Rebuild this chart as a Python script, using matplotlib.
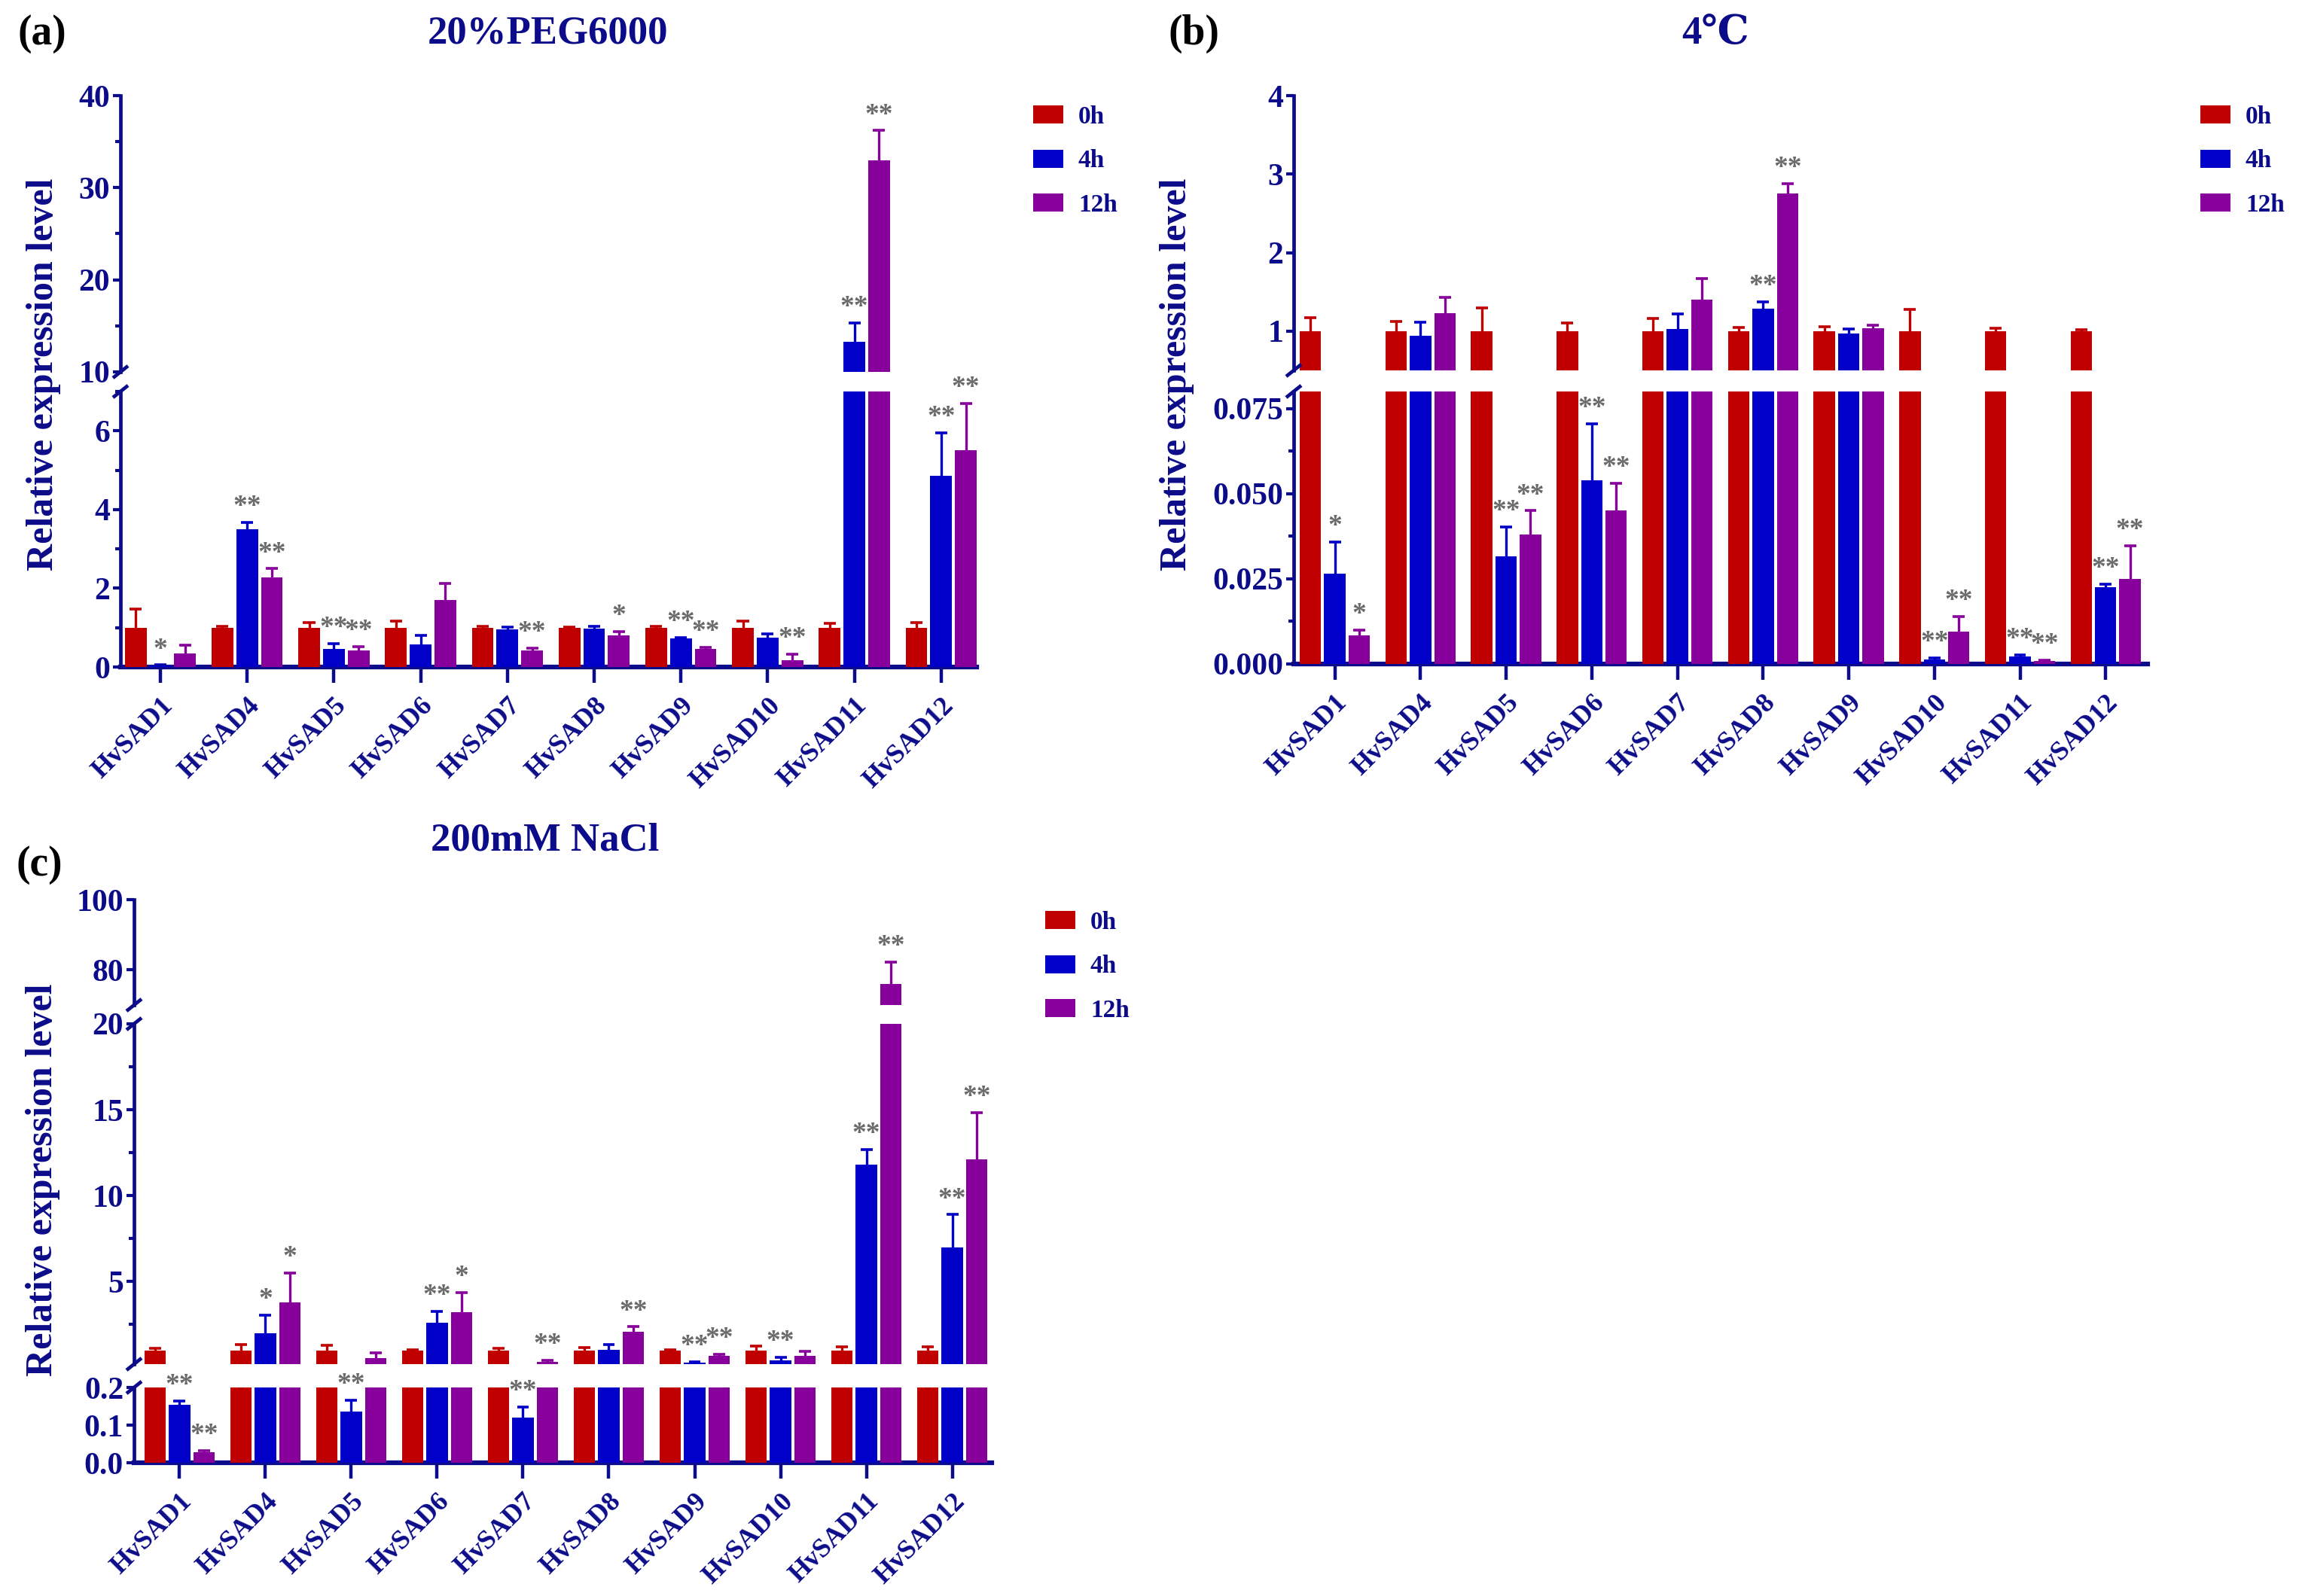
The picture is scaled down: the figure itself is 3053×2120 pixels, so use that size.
import numpy as np
import matplotlib
matplotlib.use("Agg")
import matplotlib.pyplot as plt
from matplotlib.patches import Patch
from matplotlib.lines import Line2D
from matplotlib.ticker import MultipleLocator, FixedLocator

plt.rcParams['font.family'] = ['Liberation Serif', 'DejaVu Serif', 'Noto Sans CJK SC']
plt.rcParams['font.weight'] = 'bold'

W, H = 3053, 2120
NAVY = '#0c0c8a'
STAR = '#6a6a6a'
COLORS = ['#c00000', '#0000c8', '#88009c']

genes = ['HvSAD1', 'HvSAD4', 'HvSAD5', 'HvSAD6', 'HvSAD7',
         'HvSAD8', 'HvSAD9', 'HvSAD10', 'HvSAD11', 'HvSAD12']
times = ['0h', '4h', '12h']

# (a) 20% PEG6000
peg_0h = [1.0, 1.0, 1.0, 1.0, 1.0, 1.0, 1.0, 1.0, 1.0, 1.0]
peg_0h_sd = [0.47, 0.03, 0.12, 0.17, 0.04, 0.01, 0.04, 0.17, 0.10, 0.13]
peg_4h = [0.03, 3.5, 0.45, 0.58, 0.95, 0.98, 0.72, 0.75, 13.3, 4.85]
peg_4h_sd = [0.02, 0.18, 0.15, 0.22, 0.07, 0.05, 0.03, 0.10, 2.0, 1.1]
peg_12h = [0.35, 2.28, 0.43, 1.70, 0.43, 0.80, 0.45, 0.18, 33.0, 5.5]
peg_12h_sd = [0.20, 0.22, 0.09, 0.42, 0.05, 0.10, 0.05, 0.14, 3.2, 1.2]
peg_4h_sig = ['*', '**', '**', '', '', '', '**', '', '**', '**']
peg_12h_sig = ['', '**', '**', '', '**', '*', '**', '**', '**', '**']

# (b) 4 C
cold_0h = [1.0, 1.0, 1.0, 1.0, 1.0, 1.0, 1.0, 1.0, 1.0, 1.0]
cold_0h_sd = [0.17, 0.12, 0.30, 0.10, 0.16, 0.05, 0.06, 0.28, 0.04, 0.02]
cold_4h = [0.0265, 0.94, 0.0315, 0.054, 1.03, 1.29, 0.97, 0.0013, 0.0022, 0.0225]
cold_4h_sd = [0.0093, 0.17, 0.0088, 0.0165, 0.19, 0.08, 0.06, 0.0005, 0.0005, 0.001]
cold_12h = [0.0085, 1.23, 0.038, 0.045, 1.40, 2.75, 1.04, 0.0095, 0.0008, 0.025]
cold_12h_sd = [0.0015, 0.20, 0.007, 0.008, 0.27, 0.13, 0.04, 0.0045, 0.0004, 0.0098]
cold_4h_sig = ['*', '', '**', '**', '', '**', '', '**', '**', '**']
cold_12h_sig = ['*', '', '**', '**', '', '**', '', '**', '**', '**']

# (c) 200 mM NaCl
salt_0h = [1.0, 1.0, 1.0, 1.0, 1.0, 1.0, 1.0, 1.0, 1.0, 1.0]
salt_0h_sd = [0.10, 0.35, 0.30, 0.05, 0.10, 0.15, 0.05, 0.25, 0.20, 0.20]
salt_4h = [0.155, 1.98, 0.137, 2.6, 0.12, 1.05, 0.28, 0.42, 11.8, 7.0]
salt_4h_sd = [0.01, 1.07, 0.03, 0.66, 0.028, 0.30, 0.04, 0.18, 0.9, 1.9]
salt_12h = [0.028, 3.8, 0.57, 3.23, 0.33, 2.1, 0.69, 0.70, 76.0, 12.1]
salt_12h_sd = [0.005, 1.7, 0.30, 1.14, 0.09, 0.27, 0.09, 0.25, 6.3, 2.75]
salt_4h_sig = ['**', '*', '**', '**', '**', '', '**', '**', '**', '**']
salt_12h_sig = ['**', '*', '', '*', '**', '**', '**', '', '**', '**']

fig = plt.figure(figsize=(W / 100, H / 100), dpi=100)


def add_ax(left, right, top, bottom):
    return fig.add_axes([left / W, 1 - bottom / H, (right - left) / W, (bottom - top) / H])


def fig_line(x0, y0, x1, y1):
    fig.add_artist(Line2D([x0 / W, x1 / W], [1 - y0 / H, 1 - y1 / H],
                          transform=fig.transFigure, color=NAVY, lw=3.4,
                          solid_capstyle='butt'))


def draw_panel(left, right, spans, ylims, xlim, means, sds, sigs, majors, minors, fmts):
    axes = []
    x = np.arange(len(genes))
    width, offset, cap = 0.25, 0.285, 0.07
    for k, (top, bottom) in enumerate(spans):
        ax = add_ax(left, right, top, bottom)
        lo = ylims[k][0]
        for j in range(3):
            xs = x + (j - 1) * offset
            m = np.array(means[j])
            tops = m + np.array(sds[j])
            show = m > lo
            ax.bar(xs[show], m[show], width, color=COLORS[j], zorder=3)
            # upward-only error bars, skipped where they fall below this segment
            e = tops > lo
            ax.vlines(xs[e], np.maximum(m[e], lo), tops[e], color=COLORS[j], lw=2.4, zorder=2)
            ax.hlines(tops[e], xs[e] - cap, xs[e] + cap, color=COLORS[j], lw=2.6, zorder=2)
        ax.set_ylim(*ylims[k])
        ax.set_xlim(*xlim)
        for s in ['top', 'right']:
            ax.spines[s].set_visible(False)
        ax.spines['left'].set_color(NAVY)
        ax.spines['left'].set_linewidth(3.4)
        ax.yaxis.set_major_locator(FixedLocator(majors[k]))
        if minors[k]:
            ax.yaxis.set_minor_locator(MultipleLocator(minors[k]))
        ax.set_yticklabels([fmts[k].format(v) for v in majors[k]])
        ax.tick_params(axis='y', which='major', direction='out', length=7, width=3,
                       color=NAVY, labelcolor=NAVY, labelsize=30, pad=3)
        ax.tick_params(axis='y', which='minor', direction='out', length=5, width=3, color=NAVY)
        if k < len(spans) - 1:
            ax.spines['bottom'].set_visible(False)
            ax.set_xticks([])
        else:
            ax.spines['bottom'].set_color(NAVY)
            ax.spines['bottom'].set_linewidth(4.5)
            ax.set_xticks(x)
            ax.set_xticklabels(genes, rotation=45, ha='right', va='top',
                               rotation_mode='anchor')
            ax.tick_params(axis='x', direction='out', length=15, width=3.2,
                           color=NAVY, labelcolor=NAVY, labelsize=26, pad=10)
        axes.append(ax)
    # broken-axis marks
    for k in range(len(spans) - 1):
        yb = spans[k][1]
        yt = spans[k + 1][0]
        fig_line(left - 10, yb + 8, left + 10, yb - 8)
        fig_line(left - 10, yt + 8, left + 10, yt - 8)
    # significance stars
    for j in (1, 2):
        for i in range(len(genes)):
            if not sigs[j - 1][i]:
                continue
            top = means[j][i] + sds[j][i]
            target = axes[-1]
            for ax, lim in zip(axes, ylims):
                if lim[0] <= top <= lim[1]:
                    target = ax
                    break
            target.annotate(sigs[j - 1][i], (x[i] + (j - 1) * offset, top),
                            xytext=(0, 2), textcoords='offset points',
                            ha='center', va='bottom', fontsize=27, color=STAR,
                            annotation_clip=False, zorder=5)
    return axes


def add_legend(x, y):
    handles = [Patch(facecolor=c, edgecolor='none') for c in COLORS]
    fig.legend(handles, times, loc='upper left', bbox_to_anchor=(x / W, 1 - y / H),
               frameon=False, fontsize=24, handlelength=1.2, handleheight=0.72,
               handletextpad=0.6, labelspacing=0.82, borderpad=0, borderaxespad=0,
               labelcolor=NAVY)


# panel (a)
draw_panel(160, 1297, [(127, 494), (520, 886)], [(10, 40), (0, 7)], (-0.46, 9.41),
           [peg_0h, peg_4h, peg_12h], [peg_0h_sd, peg_4h_sd, peg_12h_sd],
           [peg_4h_sig, peg_12h_sig],
           [[10, 20, 30, 40], [0, 2, 4, 6]], [5, 1], ['{:g}', '{:g}'])
# panel (b)
draw_panel(1718, 2852, [(127, 492), (520, 882)], [(0.5, 4), (0, 0.08)], (-0.48, 9.49),
           [cold_0h, cold_4h, cold_12h], [cold_0h_sd, cold_4h_sd, cold_12h_sd],
           [cold_4h_sig, cold_12h_sig],
           [[1, 2, 3, 4], [0, 0.025, 0.05, 0.075]], [None, 0.0125], ['{:g}', '{:.3f}'])
# panel (c)
draw_panel(178, 1317, [(1195, 1335), (1360, 1812), (1843, 1943)],
           [(70, 100), (0.2, 20), (0, 0.2)], (-0.53, 9.46),
           [salt_0h, salt_4h, salt_12h], [salt_0h_sd, salt_4h_sd, salt_12h_sd],
           [salt_4h_sig, salt_12h_sig],
           [[80, 100], [5, 10, 15, 20], [0, 0.1, 0.2]], [None, 2.5, None],
           ['{:g}', '{:g}', '{:.1f}'])

add_legend(1372, 140)
add_legend(2922, 140)
add_legend(1388, 1210)

# titles, panel letters, axis labels
fig.text(23 / W, 1 - 45 / H, '(a)', fontsize=40, color='black', va='center', ha='left')
fig.text(1552 / W, 1 - 45 / H, '(b)', fontsize=40, color='black', va='center', ha='left')
fig.text(22 / W, 1 - 1149 / H, '(c)', fontsize=40, color='black', va='center', ha='left')
fig.text(727 / W, 1 - 45 / H, '20%PEG6000', fontsize=38, color=NAVY, ha='center', va='center')
fig.text(2278 / W, 1 - 45 / H, '4\u2103', fontsize=38, color=NAVY, ha='center', va='center')
fig.text(724 / W, 1 - 1116 / H, '200mM NaCl', fontsize=38, color=NAVY, ha='center', va='center')
for xp, yp in [(58, 497), (1563, 497), (57, 1567)]:
    fig.text(xp / W, 1 - yp / H, 'Relative expression level', fontsize=36, color=NAVY,
             rotation=90, ha='center', va='center')

fig.savefig('out.png', dpi=100)
